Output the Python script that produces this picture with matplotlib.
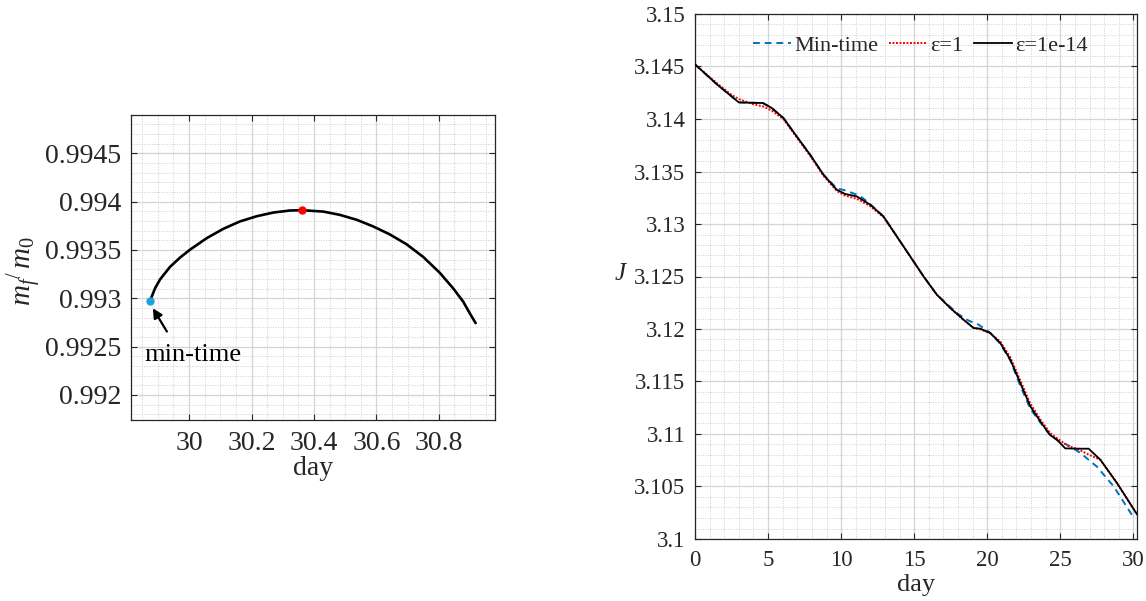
import matplotlib
matplotlib.use("Agg")
import matplotlib.pyplot as plt
from matplotlib.ticker import MultipleLocator

plt.rcParams['font.family'] = ['Liberation Serif', 'DejaVu Serif']
plt.rcParams['mathtext.fontset'] = 'custom'
plt.rcParams['mathtext.rm'] = 'Liberation Serif'
plt.rcParams['mathtext.it'] = 'Liberation Serif:italic'

# ---------------- data: left panel (final mass ratio vs. day) ----------------
mass_day = [29.875, 29.891, 29.907, 29.939, 29.971, 30.003, 30.057, 30.110, 30.163,
            30.217, 30.270, 30.323, 30.363, 30.430, 30.483, 30.537, 30.590, 30.643,
            30.697, 30.750, 30.803, 30.846, 30.878, 30.899, 30.918]
mass_ratio = [0.992973, 0.993103, 0.993195, 0.993325, 0.993421, 0.993503, 0.993623,
              0.993719, 0.993795, 0.993849, 0.993887, 0.993908, 0.993911, 0.993897,
              0.993863, 0.993812, 0.993743, 0.993661, 0.993558, 0.993428, 0.993264,
              0.993103, 0.992966, 0.992846, 0.992743]
mintime_pt = (29.875, 0.992973)
best_pt = (30.363, 0.993911)

# ---------------- data: right panel (J vs. day) ----------------
day_black = [0, 1.5, 3.0, 3.8, 4.65, 5.25, 6.05, 6.96, 7.88, 8.79, 9.7, 10.27, 11.07,
             11.99, 12.9, 13.81, 14.73, 15.64, 16.55, 17.47, 18.38, 19.06, 19.52, 20.2,
             20.89, 21.58, 22.26, 22.95, 23.63, 24.3, 24.77, 25.34, 26.37, 26.94, 27.74,
             28.88, 30.25]
J_black = [3.1452, 3.1433, 3.14158, 3.14155, 3.14152, 3.14105, 3.1401, 3.13834, 3.1366,
           3.1347, 3.13327, 3.13286, 3.13263, 3.13184, 3.13072, 3.12882, 3.12691, 3.12501,
           3.12327, 3.1220, 3.12089, 3.1201, 3.12003, 3.11962, 3.11867, 3.11708, 3.11486,
           3.11263, 3.1112, 3.1099, 3.10946, 3.10863, 3.1086, 3.1086, 3.10755, 3.10533,
           3.10235]

day_red = [0, 1.5, 2.5, 3.0, 3.5, 4.0, 4.65, 5.25, 6.05, 6.96, 7.88, 8.79, 9.7, 10.27,
           11.07, 11.99, 12.9, 13.81, 14.73, 15.64, 16.55, 17.47, 18.38, 19.06, 19.52,
           20.2, 20.89, 21.58, 22.26, 22.95, 23.63, 24.3, 24.77, 25.5, 26.37, 27.0, 27.74,
           28.88, 30.25]
J_red = [3.1452, 3.1434, 3.1423, 3.1419, 3.14165, 3.1414, 3.1412, 3.1408, 3.1400,
         3.13825, 3.1365, 3.1346, 3.13315, 3.1327, 3.1324, 3.1317, 3.13065, 3.12882,
         3.12691, 3.12501, 3.12327, 3.1220, 3.12085, 3.1201, 3.11998, 3.1196, 3.1188,
         3.1173, 3.1151, 3.1129, 3.1114, 3.1101, 3.1096, 3.1089, 3.10845, 3.1080, 3.10755,
         3.10533, 3.10235]

day_blue = [0, 1.5, 3.0, 3.8, 4.65, 5.25, 6.05, 6.96, 7.88, 8.79, 9.7, 10.27, 11.07,
            11.5, 11.99, 12.9, 13.81, 14.73, 15.64, 16.55, 17.47, 18.04, 18.72, 19.4,
            20.2, 20.89, 21.58, 22.26, 22.95, 23.63, 24.3, 24.9, 25.5, 26.37, 27.5, 28.66,
            29.9, 30.1]
J_blue = [3.1452, 3.1433, 3.14158, 3.14155, 3.14152, 3.14105, 3.1401, 3.13834, 3.1366,
          3.1347, 3.1334, 3.1332, 3.1328, 3.13245, 3.1319, 3.13072, 3.12882, 3.12691,
          3.12501, 3.12327, 3.1221, 3.1214, 3.1208, 3.12042, 3.11965, 3.1186, 3.1170,
          3.1146, 3.1124, 3.1111, 3.1099, 3.1093, 3.10895, 3.1082, 3.1069, 3.1050,
          3.1023, 3.1020]

series_labels = ['Min-time', 'ε=1', 'ε=1e-14']

# ---------------- figure ----------------
fig = plt.figure(figsize=(11.46, 6.01), dpi=100)
axc = '#262626'


def style(ax, fs):
    ax.set_axisbelow(True)
    for s in ax.spines.values():
        s.set_color(axc)
        s.set_linewidth(0.9)
    ax.tick_params(which='major', direction='in', length=4.5, width=0.8, color=axc,
                   top=True, right=True, labelsize=fs, labelcolor=axc)
    ax.tick_params(axis='x', which='major', pad=8)
    ax.tick_params(axis='y', which='major', pad=7)
    ax.tick_params(which='minor', length=0, top=True, right=True)
    ax.grid(which='major', color='#d4d4d4', linewidth=0.9, linestyle='-')
    ax.grid(which='minor', color='#cdcdcd', linewidth=0.7, linestyle=(0, (1, 1.6)))


# left panel
ax1 = fig.add_axes([131 / 1146, 1 - 420 / 601, 364 / 1146, 305 / 601])
ax1.plot(mass_day, mass_ratio, color='black', linewidth=1.9, zorder=3,
         solid_joinstyle='round', solid_capstyle='round')
ax1.plot(*mintime_pt, 'o', color='#1aa3e0', markersize=5, zorder=4)
ax1.plot(*best_pt, 'o', color='#ff0000', markersize=5, zorder=4)
ax1.set_xlim(29.814, 30.98)
ax1.set_ylim(0.991741, 0.994896)
ax1.xaxis.set_minor_locator(MultipleLocator(0.05))
ax1.yaxis.set_minor_locator(MultipleLocator(0.0001))
ax1.set_xticks([30, 30.2, 30.4, 30.6, 30.8])
ax1.set_xticklabels(['30', '30.2', '30.4', '30.6', '30.8'])
ax1.set_yticks([0.992, 0.9925, 0.993, 0.9935, 0.994, 0.9945])
ax1.set_yticklabels(['0.992', '0.9925', '0.993', '0.9935', '0.994', '0.9945'])
style(ax1, 20)
ax1.set_xlabel('day', fontsize=20, color=axc, labelpad=0)
ax1.set_ylabel(r'$m_f{}^{/}\,m_0$', fontsize=21, color=axc)
ax1.yaxis.set_label_coords(-0.24, 0.49)
ax1.annotate('', xy=(29.884, 0.992897), xytext=(29.929, 0.992656),
             arrowprops=dict(arrowstyle='-|>', color='black', lw=1.6,
                             mutation_scale=14, shrinkA=0, shrinkB=0), zorder=5)
ax1.text(29.856, 0.99241, 'min-time', fontsize=19, color='black', va='center', ha='left')

# right panel
ax2 = fig.add_axes([695 / 1146, 1 - 539 / 601, 442 / 1146, 525 / 601])
ax2.plot(day_blue, J_blue, color='#0072BD', linestyle=(0, (3.5, 2.5)), linewidth=1.4,
         label=series_labels[0], zorder=3)
ax2.plot(day_red, J_red, color='#ff0000', linestyle=(0, (1, 0.8)), linewidth=1.4,
         label=series_labels[1], zorder=4)
ax2.plot(day_black, J_black, color='black', linestyle='-', linewidth=1.3,
         label=series_labels[2], zorder=5)
ax2.set_xlim(0, 30.25)
ax2.set_ylim(3.1, 3.15)
ax2.xaxis.set_major_locator(MultipleLocator(5))
ax2.xaxis.set_minor_locator(MultipleLocator(1))
ax2.yaxis.set_minor_locator(MultipleLocator(0.001))
ax2.set_yticks([3.1, 3.105, 3.11, 3.115, 3.12, 3.125, 3.13, 3.135, 3.14, 3.145, 3.15])
ax2.set_yticklabels(['3.1', '3.105', '3.11', '3.115', '3.12', '3.125', '3.13', '3.135',
                     '3.14', '3.145', '3.15'])
style(ax2, 16.5)
ax2.set_xlabel('day', fontsize=19, color=axc, labelpad=2)
ax2.set_ylabel('J', fontsize=18, style='italic', rotation=0, color=axc, va='center')
ax2.yaxis.set_label_coords(-0.17, 0.505)
leg = ax2.legend(loc='upper center', bbox_to_anchor=(0.51, 0.985), ncol=3, frameon=False,
                 fontsize=16, handlelength=1.7, handletextpad=0.15, columnspacing=0.5,
                 borderaxespad=0.2)
for t in leg.get_texts():
    t.set_color(axc)

fig.savefig('out.png', dpi=100)
